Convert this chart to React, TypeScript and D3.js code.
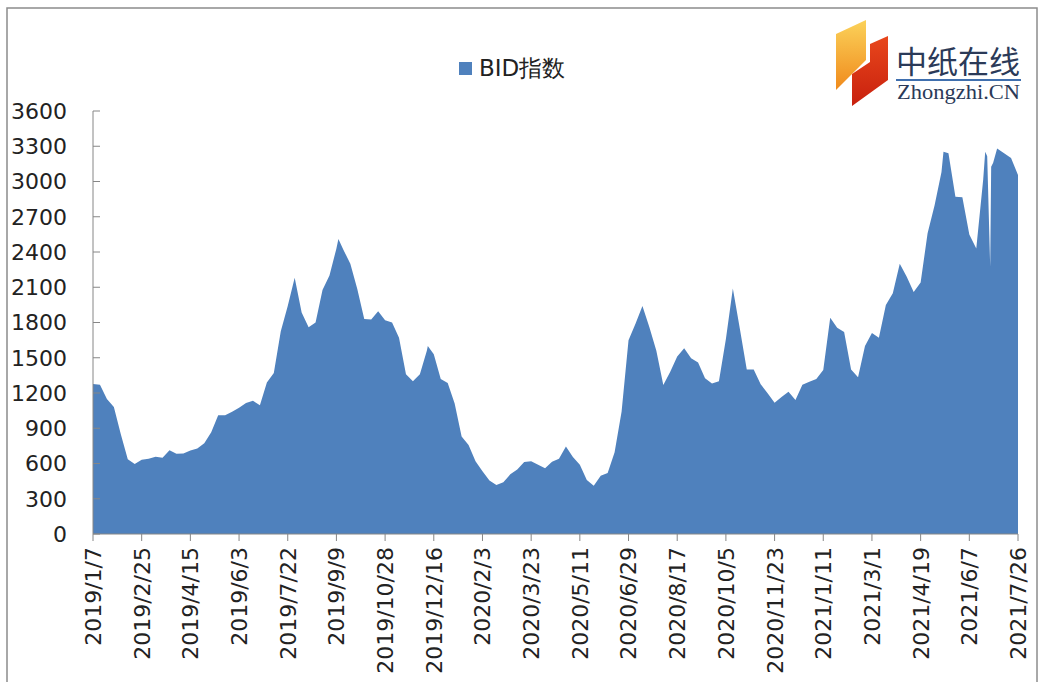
import React from 'react';
import * as d3 from 'd3';

// weekly readings (Mondays) of the BID index, starting 2019/1/7
const bid2019 = [
  1277, 1270, 1150, 1080, 850, 637, 596, 632, 641, 658,
  648, 712, 684, 685, 710, 728, 773, 867, 1010, 1010,
  1040, 1075, 1115, 1133, 1095, 1290, 1370, 1725, 1940, 2180,
  1885, 1760, 1800, 2077, 2200, 2430, 2420, 2300, 2085, 1830,
  1825, 1895, 1820, 1800, 1670, 1360, 1300, 1360, 1560, 1530,
  1320, 1285,
];
const bid2020 = [
  1110, 830, 757, 620, 535, 455, 418, 440, 508, 548,
  612, 620, 590, 560, 614, 640, 745, 655, 590, 460,
  410, 495, 520, 695, 1040, 1650, 1790, 1940, 1760, 1560,
  1268, 1380, 1510, 1580, 1495, 1460, 1325, 1280, 1300, 1660,
  2090, 1750, 1400, 1400, 1275, 1197, 1118, 1165, 1210, 1140,
  1270, 1296,
];
const bid2021 = [
  1320, 1396, 1840, 1755, 1720, 1400, 1334, 1600, 1710, 1670,
  1950, 2050, 2300, 2190, 2060, 2140, 2560, 2795, 3080, 3240,
  2870, 2866, 2550, 2430, 3020, 2275, 3280, 3240, 3200, 3055,
];

// mid-week readings at peaks and the one-day dip
const extraDates = ['2019/9/11', '2019/12/10', '2021/5/12', '2021/6/23', '2021/6/25', '2021/6/29', '2021/7/1'];
const extraValues = [2510, 1600, 3254, 3254, 3215, 3126, 3160];

const tickLabels = [
  '2019/1/7', '2019/2/25', '2019/4/15', '2019/6/3', '2019/7/22', '2019/9/9', '2019/10/28',
  '2019/12/16', '2020/2/3', '2020/3/23', '2020/5/11', '2020/6/29', '2020/8/17', '2020/10/5',
  '2020/11/23', '2021/1/11', '2021/3/1', '2021/4/19', '2021/6/7', '2021/7/26',
];
const yTicks = [0, 300, 600, 900, 1200, 1500, 1800, 2100, 2400, 2700, 3000, 3300, 3600];

const parse = d3.timeParse('%Y/%m/%d');

interface Point {
  date: Date;
  value: number;
}

const App: React.FC = () => {
  const width = 1044;
  const height = 682;
  const margin = { left: 93, right: 26, top: 111, bottom: 148 };

  const start = parse(tickLabels[0]) as Date;
  const end = parse(tickLabels[tickLabels.length - 1]) as Date;

  const weekly: Point[] = [...bid2019, ...bid2020, ...bid2021].map((v, i) => ({
    date: d3.timeDay.offset(start, 7 * i),
    value: v,
  }));
  const extras: Point[] = extraDates.map((d, i) => ({ date: parse(d) as Date, value: extraValues[i] }));
  const data = [...weekly, ...extras].sort((a, b) => +a.date - +b.date);

  const x = d3.scaleTime()
    .domain([start, end])
    .range([margin.left, width - margin.right]);
  const y = d3.scaleLinear()
    .domain([0, 3600])
    .range([height - margin.bottom, margin.top]);

  const area = d3.area<Point>()
    .x(d => x(d.date))
    .y0(y(0))
    .y1(d => y(d.value));

  const axisColor = '#868686';
  const font = '"DejaVu Sans", Verdana, sans-serif';
  const x0 = x.range()[0];
  const x1 = x.range()[1];

  return (
    <svg width={width} height={height} style={{ position: 'absolute', left: 0, top: 0, background: '#fff' }}>
      {/* outer frame */}
      <rect x={7} y={8} width={1030} height={690} fill="#fff" stroke="#8c8c8c" strokeWidth={1.5} />

      {/* logo */}
      <defs>
        <linearGradient id="orangeGrad" x1="0" y1="0" x2="0" y2="1">
          <stop offset="0%" stopColor="#fbd25a" />
          <stop offset="100%" stopColor="#f08a1c" />
        </linearGradient>
        <linearGradient id="redGrad" x1="0" y1="0" x2="0" y2="1">
          <stop offset="0%" stopColor="#e8471c" />
          <stop offset="100%" stopColor="#c8200e" />
        </linearGradient>
      </defs>
      <polygon points="836,34 866,20 866,60 836,90" fill="url(#orangeGrad)" />
      <polygon points="870,44 888,36 888,80 852,106 852,74 870,62" fill="url(#redGrad)" />
      <text x={896} y={73} fontFamily='"Noto Sans CJK SC", sans-serif' fontSize={31} fill="#2b3a58"
        textLength={124} lengthAdjust="spacingAndGlyphs">中纸在线</text>
      <line x1={896} x2={1021} y1={80} y2={80} stroke="#3f6fae" strokeWidth={2} />
      <text x={897} y={99} fontFamily='"Liberation Serif", "DejaVu Serif", serif' fontSize={20} fill="#2b3a58"
        textLength={123} lengthAdjust="spacingAndGlyphs">Zhongzhi.CN</text>

      {/* legend */}
      <rect x={459} y={62} width={13} height={13} fill="#4f81bd" />
      <text x={479} y={76} fontFamily={font} fontSize={23} fill="#222">BID指数</text>

      {/* area */}
      <path d={area(data) || ''} fill="#4f81bd" />

      {/* y axis */}
      <line x1={x0} x2={x0} y1={y(3600)} y2={y(0)} stroke={axisColor} />
      {yTicks.map(t => (
        <g key={t}>
          <line x1={x0} x2={x0 + 7} y1={y(t)} y2={y(t)} stroke={axisColor} />
          <text x={67} y={y(t)} dy="0.36em" textAnchor="end" fontFamily={font} fontSize={22} fill="#222">{t}</text>
        </g>
      ))}

      {/* x axis */}
      <line x1={x0} x2={x1} y1={y(0)} y2={y(0)} stroke={axisColor} />
      {tickLabels.map(lbl => {
        const tx = x(parse(lbl) as Date);
        return (
          <g key={lbl}>
            <line x1={tx} x2={tx} y1={y(0)} y2={y(0) + 7} stroke={axisColor} />
            <text transform={`translate(${tx},${y(0) + 13}) rotate(-90)`} dy="0.36em" textAnchor="end"
              fontFamily={font} fontSize={22} fill="#222">{lbl}</text>
          </g>
        );
      })}
    </svg>
  );
};

export default App;
